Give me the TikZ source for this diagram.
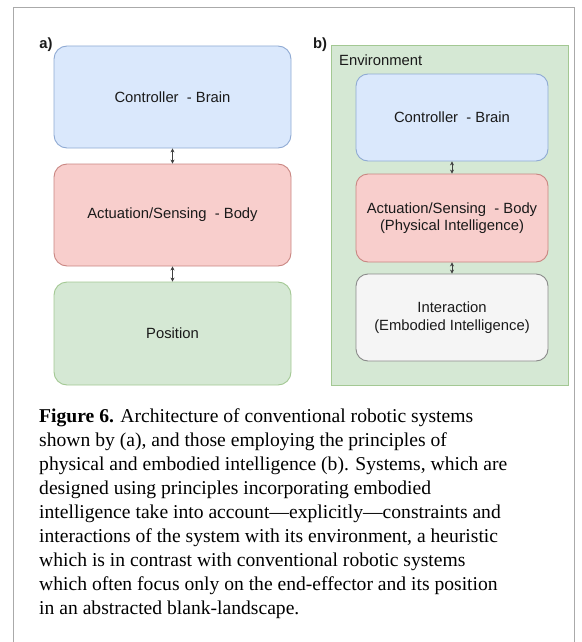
\documentclass[tikz,border=0pt]{standalone}
\usepackage{fontspec}
\setmainfont{Liberation Serif}
\setsansfont{Liberation Sans}
\usetikzlibrary{arrows.meta}
\definecolor{bluefill}{HTML}{DAE8FC}
\definecolor{bluedraw}{HTML}{8FAAD3}
\definecolor{redfill}{HTML}{F8CECC}
\definecolor{reddraw}{HTML}{C98682}
\definecolor{greenfill}{HTML}{D5E8D4}
\definecolor{greendraw}{HTML}{A3C893}
\definecolor{grayfill}{HTML}{F5F5F5}
\definecolor{graydraw}{HTML}{8A8A8A}
\definecolor{framegray}{HTML}{AAAAAA}
\definecolor{txt}{HTML}{1A1A1A}
\tikzset{
  box/.style={rounded corners=13pt, line width=0.9pt, inner sep=0pt, align=center,
    font=\sffamily\fontsize{14.8}{17.5}\selectfont, text=txt},
  bluebox/.style={box, fill=bluefill, draw=bluedraw},
  redbox/.style={box, fill=redfill, draw=reddraw},
  greenbox/.style={box, fill=greenfill, draw=greendraw},
  graybox/.style={box, fill=grayfill, draw=graydraw},
  link/.style={line width=0.6pt, draw=black!75, {Stealth[length=4pt,width=4pt]}-{Stealth[length=4pt,width=4pt]}},
  lbl/.style={inner sep=0pt, font=\sffamily\fontsize{14.8}{17.5}\selectfont, text=txt},
  panellbl/.style={lbl, font=\sffamily\bfseries\fontsize{14.8}{17.5}\selectfont},
  captext/.style={inner sep=0pt, anchor=base west, font=\fontsize{19.6}{24}\selectfont, text=black}
}
\begin{document}
\begin{tikzpicture}[x=1pt,y=-1pt]
\useasboundingbox (0,0) rectangle (581,642);
% outer frame
\draw[framegray, line width=1pt] (13,642) -- (13,8) -- (574,8) -- (574,642);
% panel a
\node[panellbl] (la) at (46,44.5) {a)};
\node[bluebox, minimum width=237pt, minimum height=102pt] (ca) at (172.5,97) {Controller \ - Brain};
\node[redbox, minimum width=237pt, minimum height=102pt] (aa) at (172.5,215) {Actuation/Sensing \ - Body};
\node[greenbox, minimum width=237pt, minimum height=103pt] (pa) at (172.5,333.5) {Position};
\draw[link] (ca.south) -- (aa.north);
\draw[link] (aa.south) -- (pa.north);
% panel b
\node[panellbl] (lb) at (320,44.5) {b)};
\node[fill=greenfill, draw=greendraw, line width=0.9pt, minimum width=237pt, minimum height=340pt, inner sep=0pt] (env) at (449.5,215) {};
\node[lbl, anchor=west] (envt) at (339,60) {Environment};
\node[bluebox, rounded corners=12pt, minimum width=192pt, minimum height=87pt] (cb) at (452,117.5) {Controller \ - Brain};
\node[redbox, rounded corners=12pt, minimum width=192pt, minimum height=88pt] (ab) at (452,218) {Actuation/Sensing \ - Body\\(Physical Intelligence)};
\node[graybox, rounded corners=12pt, minimum width=192pt, minimum height=87pt] (ib) at (452,317.5) {Interaction\\(Embodied Intelligence)};
\draw[link] (cb.south) -- (ab.north);
\draw[link] (ab.south) -- (ib.north);
% caption
\node[captext] (c1) at (39,422) {\textbf{Figure 6.} Architecture of conventional robotic systems};
\node[captext] (c2) at (39,446) {shown by (a), and those employing the principles of};
\node[captext] (c3) at (39,470) {physical and embodied intelligence (b). Systems, which are};
\node[captext] (c4) at (39,494) {designed using principles incorporating embodied};
\node[captext] (c5) at (39,518) {intelligence take into account---explicitly---constraints and};
\node[captext] (c6) at (39,542) {interactions of the system with its environment, a heuristic};
\node[captext] (c7) at (39,566) {which is in contrast with conventional robotic systems};
\node[captext] (c8) at (39,590) {which often focus only on the end-effector and its position};
\node[captext] (c9) at (39,614) {in an abstracted blank-landscape.};
\end{tikzpicture}
\end{document}
